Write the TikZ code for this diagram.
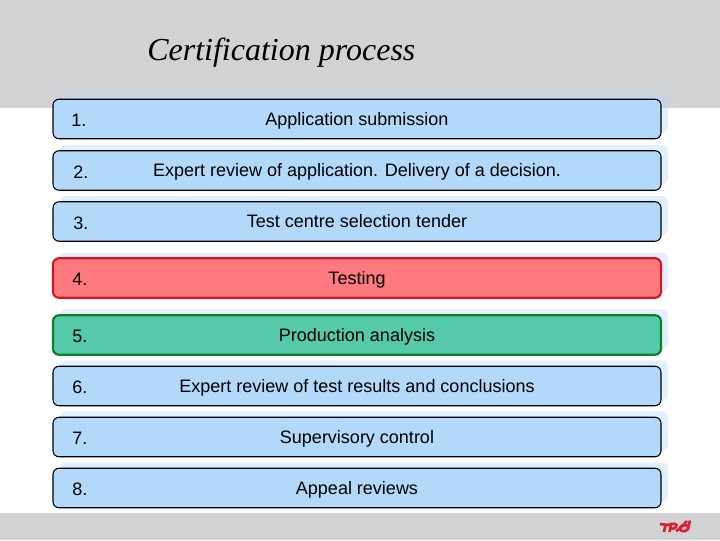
\documentclass[tikz,border=0pt]{standalone}
\usepackage{fontspec}
\setmainfont{Liberation Sans}
\newfontfamily\titlefont{Liberation Serif}
\usetikzlibrary{shadows}
\definecolor{bandgray}{HTML}{D0D2D3}
\definecolor{stepblue}{HTML}{B3D9FA}
\definecolor{stepshade}{HTML}{BBD8FA}
\definecolor{stepred}{HTML}{FF7A80}
\definecolor{stepgreen}{HTML}{55C9A9}
\definecolor{edgered}{HTML}{D8141E}
\definecolor{edgegreen}{HTML}{0B7F2C}
\definecolor{logored}{HTML}{DE1F36}
\begin{document}
\begin{tikzpicture}[x = 0.75pt, y = -0.75pt]
\tikzstyle{StepStyle}=[shape = rectangle,
                       rounded corners = 4.5pt,
                       minimum width = 456pt,
                       minimum height = 29.6pt,
                       inner sep = 0pt,
                       text height = 9pt,
                       text depth = 0pt,
                       font = \fontsize{13.5}{16}\selectfont,
                       copy shadow = {shadow xshift = 5.25pt, shadow yshift = 4.5pt,
                                      draw = none, fill = stepshade, opacity = 0.42},
                       fill = stepblue,
                       draw = black,
                       line width = 0.8pt]
\tikzstyle{RedStyle}=[StepStyle, fill = stepred, draw = edgered, line width = 1.6pt]
\tikzstyle{GreenStyle}=[StepStyle, fill = stepgreen, draw = edgegreen, line width = 1.6pt]
\tikzstyle{NumStyle}=[anchor = west, inner sep = 0pt, font = \fontsize{13.5}{16}\selectfont]
\useasboundingbox (0,0) rectangle (720,540);
\fill[bandgray] (0,0) rectangle (720,108);
\fill[bandgray] (0,513) rectangle (720,540);
\node[anchor = base west, inner sep = 0pt, font = \titlefont\itshape\fontsize{24}{28}\selectfont] (title) at (147,60) {Certification process};
\node[StepStyle] (s1) at (357,119) {Application submission};
\node[StepStyle] (s2) at (357,170.5) {Expert review of application. Delivery of a decision.};
\node[StepStyle] (s3) at (357,221.5) {Test centre selection tender};
\node[RedStyle] (s4) at (357,278) {Testing};
\node[GreenStyle] (s5) at (357,335) {Production analysis};
\node[StepStyle] (s6) at (357,386) {Expert review of test results and conclusions};
\node[StepStyle] (s7) at (357,437) {Supervisory control};
\node[StepStyle] (s8) at (357,488) {Appeal reviews};
\node[NumStyle] (n1) at (71,120) {1.};
\node[NumStyle] (n2) at (73,172) {2.};
\node[NumStyle] (n3) at (73,223) {3.};
\node[NumStyle] (n4) at (72,279) {4.};
\node[NumStyle] (n5) at (72,336) {5.};
\node[NumStyle] (n6) at (72,387) {6.};
\node[NumStyle] (n7) at (72,438) {7.};
\node[NumStyle] (n8) at (72,489) {8.};
% logo
\draw[logored, line width = 2pt] (660,524) -- (668,525) (665.5,524.5) -- (664,532);
\draw[logored, line width = 2pt] (668,525) .. controls (674,522.5) and (678,524) .. (676,527) .. controls (674.5,529) and (672,529) .. (670,528.5) (671,525) -- (669.5,532);
\draw[logored, line width = 2pt] (676,531) .. controls (680,529) and (683,525) .. (687,521);
\draw[logored, line width = 2pt] (690,520.5) -- (688,529) .. controls (686,532) and (680,532) .. (680,528.5) .. controls (680,525.5) and (685,524) .. (688,526);
\end{tikzpicture}
\end{document}
